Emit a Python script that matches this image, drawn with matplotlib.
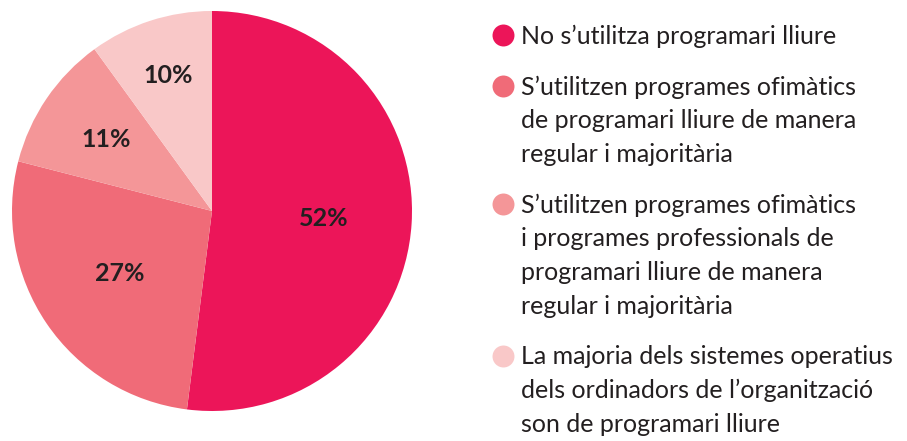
import matplotlib
matplotlib.use('Agg')
import matplotlib.pyplot as plt
import numpy as np

plt.rcParams['font.family'] = ['Lato', 'DejaVu Sans']

# Data
labels = [
    "No s\u2019utilitza programari lliure",
    "S\u2019utilitzen programes ofim\u00e0tics\nde programari lliure de manera\nregular i majorit\u00e0ria",
    "S\u2019utilitzen programes ofim\u00e0tics\ni programes professionals de\nprogramari lliure de manera\nregular i majorit\u00e0ria",
    "La majoria dels sistemes operatius\ndels ordinadors de l\u2019organitzaci\u00f3\nson de programari lliure",
]
values = [52, 27, 11, 10]
colors = ['#EC1559', '#F06B78', '#F49698', '#F9C8C8']
label_radius = [0.56, 0.56, 0.64, 0.71]

W, H = 907, 441
fig = plt.figure(figsize=(W / 100, H / 100), dpi=100)

# pie
ax = fig.add_axes([12 / W, (H - 411) / H, 400 / W, 400 / H])
wedges, _ = ax.pie(values, colors=colors, startangle=90, counterclock=False,
                   wedgeprops=dict(linewidth=0))
ax.set_xlim(-1, 1)
ax.set_ylim(-1, 1)
ax.set_aspect('equal')
for w, v, r in zip(wedges, values, label_radius):
    ang = np.deg2rad((w.theta1 + w.theta2) / 2)
    ax.text(r * np.cos(ang), r * np.sin(ang), f"{v}%", ha='center', va='center',
            fontsize=18, fontweight='bold', color='#231F20')

# legend, drawn by hand so the dot sits next to the first line
lax = fig.add_axes([0, 0, 1, 1])
lax.set_xlim(0, W)
lax.set_ylim(H, 0)
lax.axis('off')
line_h = 33.5
base = 44
for lab, c in zip(labels, colors):
    lax.scatter([503], [base - 9], s=250, color=c, linewidths=0)
    for i, line in enumerate(lab.split('\n')):
        lax.text(521, base + i * line_h, line, ha='left', va='baseline',
                 fontsize=18, color='#231F20')
    base += line_h * lab.count('\n') + 51

fig.savefig('out.png', dpi=100)
